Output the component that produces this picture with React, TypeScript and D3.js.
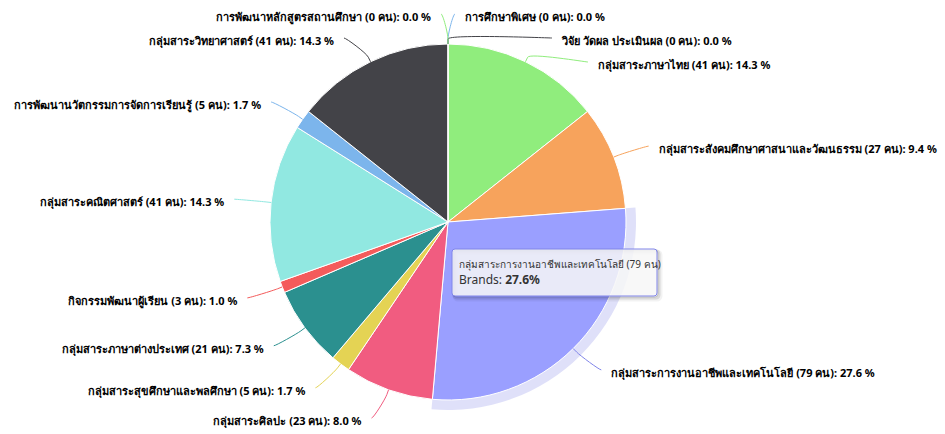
import React from "react"
import { pie, arc, sum } from "d3"

// slices in drawing order, clockwise from 12 o'clock
const subjects = [
  "การศึกษาพิเศษ",
  "วิจัย วัดผล ประเมินผล",
  "กลุ่มสาระภาษาไทย",
  "กลุ่มสาระสังคมศึกษาศาสนาและวัฒนธรรม",
  "กลุ่มสาระการงานอาชีพและเทคโนโลยี",
  "กลุ่มสาระศิลปะ",
  "กลุ่มสาระสุขศึกษาและพลศึกษา",
  "กลุ่มสาระภาษาต่างประเทศ",
  "กิจกรรมพัฒนาผู้เรียน",
  "กลุ่มสาระคณิตศาสตร์",
  "การพัฒนานวัตกรรมการจัดการเรียนรู้",
  "กลุ่มสาระวิทยาศาสตร์",
  "การพัฒนาหลักสูตรสถานศึกษา",
]
const counts = [0, 0, 41, 27, 79, 23, 5, 21, 3, 41, 5, 41, 0]
const colors = [
  "#7cb5ec", "#434348", "#90ed7d", "#f7a35c", "#8085e9", "#f15c80", "#e4d354",
  "#2b908f", "#f45b5b", "#91e8e1", "#7cb5ec", "#434348", "#90ed7d",
]
const hoveredIndex = 4
const hoverColor = "#9a9fff"
const seriesName = "Brands"

const width = 945
const height = 434
const cx = 448
const cy = 222
const radius = 178
const labelDistance = 30
const labelFont = "'Noto Sans', 'Lucida Grande', Arial, sans-serif"

const total = sum(counts)
const pct = (v: number) => (v / total) * 100

// x of the label circle at a given y, like highcharts' getX (padding 5 included)
const getX = (y: number, left: boolean) => {
  const r2 = radius + labelDistance
  const a = Math.asin(Math.max(-1, Math.min(1, (y - cy) / r2)))
  return cx + (left ? -1 : 1) * (Math.cos(a) * r2 + 5)
}

const App = () => {
  const arcs = pie<number>().sort(null).value((d) => d)(counts)
  const sliceArc = arc<any>().innerRadius(0).outerRadius(radius)
  const haloArc = arc<any>().innerRadius(radius).outerRadius(radius + 10)

  // natural label positions, then push them apart on each side
  const labels = arcs.map((a, i) => {
    const mid = (a.startAngle + a.endAngle) / 2
    const left = mid >= Math.PI
    const r2 = radius + labelDistance
    return { i, mid, left, y: cy - Math.cos(mid) * r2 }
  })
  ;[true, false].forEach((side) => {
    const group = labels.filter((l) => l.left === side).sort((a, b) => a.y - b.y)
    let prev = 12 - 24
    group.forEach((l) => {
      l.y = Math.max(l.y, prev + 24)
      prev = l.y
    })
  })

  const hovered = arcs[hoveredIndex]

  return (
    <svg
      width={width}
      height={height}
      style={{ position: "absolute", left: 0, top: 0, background: "#fff" }}
    >
      <rect width={width} height={height} fill="#ffffff" />
      <g transform={`translate(${cx}, ${cy})`}>
        <path d={haloArc(hovered) || ""} fill={colors[hoveredIndex]} opacity={0.25} />
        {arcs.map((a, i) => (
          <path
            key={i}
            d={sliceArc(a) || ""}
            fill={i === hoveredIndex ? hoverColor : colors[i]}
            stroke="#ffffff"
            strokeWidth={1}
            strokeLinejoin="round"
          />
        ))}
      </g>

      {labels.map((l) => {
        const sx = Math.sin(l.mid)
        const sy = -Math.cos(l.mid)
        const tx = cx + sx * radius
        const ty = cy + sy * radius
        const bx = cx + sx * (radius + 5)
        const by = cy + sy * (radius + 5)
        const lx = getX(l.y, l.left)
        const dir = l.left ? -1 : 1
        const d = `M${lx + dir * 2},${l.y} C${lx},${l.y} ${2 * bx - tx},${2 * by - ty} ${bx},${by} L${tx},${ty}`
        const text = `${subjects[l.i]} (${counts[l.i]} คน): ${pct(counts[l.i]).toFixed(1)} %`
        return (
          <g key={l.i}>
            <path d={d} fill="none" stroke={colors[l.i]} strokeWidth={1} />
            <text
              x={lx + dir * 12}
              y={l.y + 3}
              dy="0.35em"
              textAnchor={l.left ? "end" : "start"}
              fontFamily={labelFont}
              fontSize={11}
              fontWeight="bold"
              fill="#000000"
              stroke="#ffffff"
              strokeWidth={2}
              strokeLinejoin="round"
              paintOrder="stroke"
            >
              {text}
            </text>
          </g>
        )
      })}

      {/* tooltip for the hovered slice */}
      <g transform="translate(452, 249)">
        {[1, 2, 3].map((s) => (
          <rect
            key={s}
            x={s}
            y={s}
            width={205}
            height={47}
            rx={3}
            fill="none"
            stroke="#000000"
            strokeOpacity={0.05 * (4 - s)}
            strokeWidth={2 * s - 1}
          />
        ))}
        <rect
          width={205}
          height={47}
          rx={3}
          fill="rgba(247,247,247,0.85)"
          stroke={colors[hoveredIndex]}
          strokeWidth={1}
        />
        <text x={7} y={19} fontFamily={labelFont} fontSize={10} fill="#333333">
          {`${subjects[hoveredIndex]} (${counts[hoveredIndex]} คน)`}
        </text>
        <text x={7} y={35} fontFamily={labelFont} fontSize={12} fill="#333333">
          {`${seriesName}: `}
          <tspan fontWeight="bold">{`${pct(counts[hoveredIndex]).toFixed(1)}%`}</tspan>
        </text>
      </g>
    </svg>
  )
}

export default App
